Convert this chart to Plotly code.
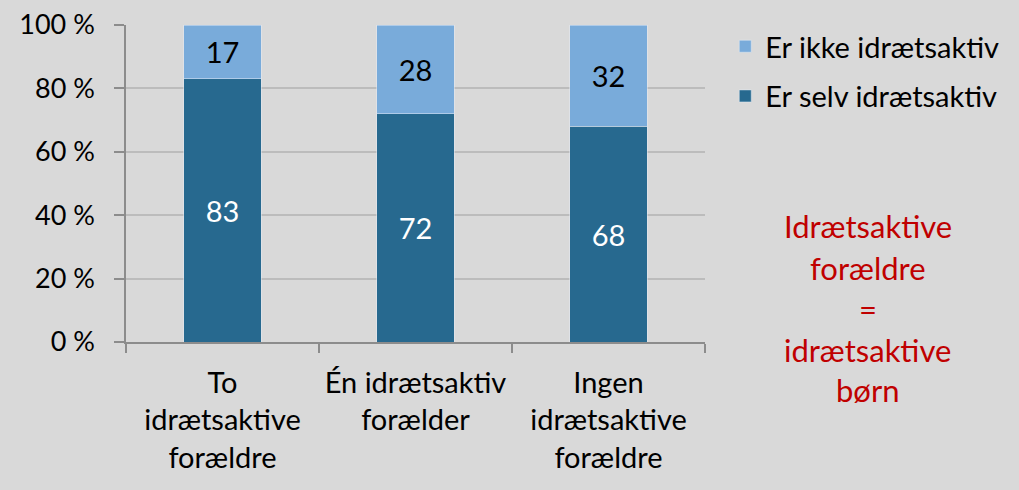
import plotly.graph_objects as go

categories = ["To<br>idrætsaktive<br>forældre", "Én idrætsaktiv<br>forælder", "Ingen<br>idrætsaktive<br>forældre"]
selv = [83, 72, 68]
ikke = [17, 28, 32]
series_names = ["Er selv idrætsaktiv", "Er ikke idrætsaktiv"]
y_ticks = [0, 20, 40, 60, 80, 100]
y_ticklabels = ["0 %", "20 %", "40 %", "60 %", "80 %", "100 %"]
note_lines = ["Idrætsaktive", "forældre", "=", "idrætsaktive", "børn"]

FONT = "Lato"
DARK = "#27698f"
LIGHT = "#79abda"
BG = "#d9d9d9"

fig = go.Figure()
fig.add_trace(go.Bar(
    x=categories, y=selv, name=series_names[0], marker_color=DARK,
    text=[str(v) for v in selv], textposition="inside", insidetextanchor="middle",
    textfont=dict(color="white", size=29, family=FONT), legendgroup="a", legendrank=2,
))
fig.add_trace(go.Bar(
    x=categories, y=ikke, name=series_names[1], marker_color=LIGHT,
    text=[str(v) for v in ikke], textposition="inside", insidetextanchor="middle",
    textfont=dict(color="black", size=29, family=FONT), legendgroup="b", legendrank=1,
))

fig.update_layout(
    width=1019, height=490,
    barmode="stack", bargap=0.6,
    paper_bgcolor=BG, plot_bgcolor=BG,
    margin=dict(l=126, r=314, t=25, b=148, autoexpand=False),
    font=dict(family=FONT, size=27, color="black"),
    legend=dict(
        x=1.035, y=1.013, xanchor="left", yanchor="top",
        traceorder="grouped", tracegroupgap=9,
        font=dict(size=29, family=FONT), bgcolor="rgba(0,0,0,0)",
    ),
    showlegend=True,
)
fig.update_xaxes(
    showline=True, linecolor="#8c8c8c", linewidth=1.5, automargin=False,
    ticks="outside", tickson="boundaries", ticklen=9, tickcolor="#8c8c8c", tickwidth=1.5,
    tickfont=dict(size=29, family=FONT), ticklabelstandoff=14,
)
fig.update_yaxes(
    range=[0, 100], tickvals=y_ticks, ticktext=y_ticklabels, automargin=False,
    showline=True, linecolor="#8c8c8c", linewidth=1.5,
    ticks="outside", ticklen=10, tickcolor="#8c8c8c", tickwidth=1.5,
    showgrid=True, gridcolor="#bcbcbc", gridwidth=1.5,
    tickfont=dict(size=27, family=FONT), zeroline=False, ticklabelstandoff=14,
)

line_y = [0.365, 0.233, 0.104, -0.025, -0.152]
for txt, yy in zip(note_lines, line_y):
    fig.add_annotation(
        text=txt, xref="paper", yref="paper", x=1.2815, y=yy,
        showarrow=False, font=dict(size=31, color="#c00000", family=FONT),
        xanchor="center", yanchor="middle",
    )

fig.write_html(
    "out.html",
    config={"displayModeBar": False},
    post_script="document.body.style.margin='0';document.body.style.background='#d9d9d9';",
)
